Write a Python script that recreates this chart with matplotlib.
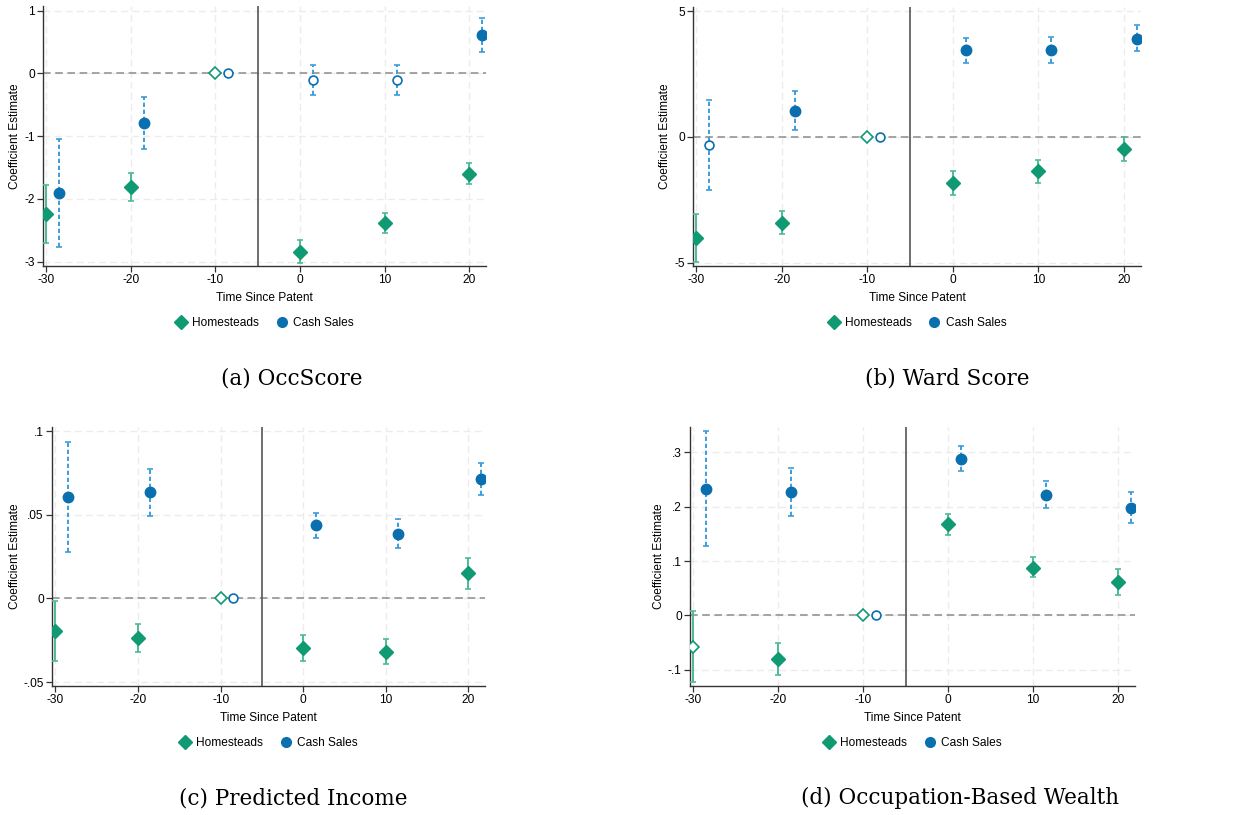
import numpy as np
import matplotlib.pyplot as plt
from matplotlib.lines import Line2D
from matplotlib.ticker import FuncFormatter

plt.rcParams['font.family'] = ['Liberation Sans', 'DejaVu Sans']

# event times (cash sales are drawn shifted right by 1.5)
years = [-30, -20, -10, 0, 10, 20]
cash_shift = 1.5

# (a) OccScore
occ_home = [-2.24, -1.81, 0, -2.84, -2.39, -1.60]
occ_home_lo = [-2.70, -2.03, 0, -3.02, -2.54, -1.77]
occ_home_hi = [-1.78, -1.59, 0, -2.65, -2.23, -1.42]
occ_cash = [-1.90, -0.79, 0, -0.10, -0.10, 0.62]
occ_cash_lo = [-2.77, -1.20, 0, -0.34, -0.34, 0.34]
occ_cash_hi = [-1.04, -0.38, 0, 0.14, 0.13, 0.89]

# (b) Ward Score
ward_home = [-4.00, -3.41, 0, -1.82, -1.37, -0.49]
ward_home_lo = [-4.97, -3.87, 0, -2.30, -1.82, -0.96]
ward_home_hi = [-3.05, -2.95, 0, -1.36, -0.92, -0.02]
ward_cash = [-0.34, 1.01, 0, 3.44, 3.44, 3.90]
ward_cash_lo = [-2.10, 0.26, 0, 2.95, 2.93, 3.40]
ward_cash_hi = [1.45, 1.81, 0, 3.93, 3.95, 4.43]

# (c) Predicted Income
inc_home = [-0.0194, -0.0238, 0, -0.0296, -0.0317, 0.0149]
inc_home_lo = [-0.0373, -0.0321, 0, -0.0373, -0.0391, 0.0054]
inc_home_hi = [-0.0016, -0.0151, 0, -0.0218, -0.0244, 0.0244]
inc_cash = [0.0603, 0.0633, 0, 0.0437, 0.0387, 0.0712]
inc_cash_lo = [0.0278, 0.0492, 0, 0.0361, 0.0302, 0.0615]
inc_cash_hi = [0.0933, 0.0774, 0, 0.0512, 0.0472, 0.0810]

# (d) Occupation-Based Wealth
wlth_home = [-0.0576, -0.0796, 0, 0.1672, 0.0876, 0.0606]
wlth_home_lo = [-0.1225, -0.1096, 0, 0.1482, 0.0698, 0.0367]
wlth_home_hi = [0.0073, -0.0502, 0, 0.1862, 0.1066, 0.0857]
wlth_cash = [0.2333, 0.2272, 0, 0.2884, 0.2223, 0.1978]
wlth_cash_lo = [0.1280, 0.1837, 0, 0.2658, 0.1978, 0.1696]
wlth_cash_hi = [0.3392, 0.2707, 0, 0.3110, 0.2480, 0.2266]

green = '#0f9a73'
green_ci = '#4dbb95'
blue = '#0a6fae'
blue_ci = '#3d9ddc'
fs = 8.6  # small text size


def stata_fmt(v, pos):
    s = ('%g' % round(v, 6))
    s = s.replace('0.', '.') if abs(v) < 1 else s
    return s


def panel(rect, home, hlo, hhi, cash, clo, chi, yticks, ylim, caption, cap_xy):
    ax = fig.add_axes(rect)
    x = np.array(years, dtype=float)
    xc = x + cash_shift
    for xs, v, lo, hi, col, cicol, mk, ms, ls in [
            (x, home, hlo, hhi, green, green_ci, 'D', 7, '-'),
            (xc, cash, clo, chi, blue, blue_ci, 'o', 7.5, (0, (2.2, 1.4)))]:
        v, lo, hi = np.array(v), np.array(lo), np.array(hi)
        has_ci = hi > lo
        eb = ax.errorbar(xs[has_ci], v[has_ci],
                         yerr=[v[has_ci] - lo[has_ci], hi[has_ci] - v[has_ci]],
                         fmt='none', ecolor=cicol, elinewidth=1.4, capsize=2.2,
                         capthick=1.2, zorder=3)
        eb[2][0].set_linestyle(ls)
        hollow = (lo <= 0) & (hi >= 0)
        ax.plot(xs[~hollow], v[~hollow], mk, color=col, ms=ms, zorder=5)
        ax.plot(xs[hollow], v[hollow], mk, mfc='white', mec=col, mew=1.2,
                ms=ms * 0.85, zorder=5)

    ax.axhline(0, color='#8c8c8c', lw=1.1, ls=(0, (5, 3)), zorder=2)
    ax.axvline(-5, color='#555555', lw=1.2, zorder=2)
    ax.set_xlim(-30.4, 22.0)
    ax.set_ylim(*ylim)
    ax.set_xticks([-30, -20, -10, 0, 10, 20])
    ax.set_yticks(yticks)
    ax.yaxis.set_major_formatter(FuncFormatter(stata_fmt))
    ax.xaxis.set_major_formatter(FuncFormatter(lambda v, p: '%d' % v))
    ax.grid(True, color='#ececec', lw=1.0, ls=(0, (5, 3)), zorder=0)
    for s in ['top', 'right']:
        ax.spines[s].set_visible(False)
    for s in ['left', 'bottom']:
        ax.spines[s].set_color('#333333')
        ax.spines[s].set_linewidth(1.0)
    ax.tick_params(labelsize=fs, length=4, width=0.9, color='#333333', pad=2)
    ax.set_xlabel('Time Since Patent', fontsize=fs, labelpad=4)
    ax.set_ylabel('Coefficient Estimate', fontsize=fs, labelpad=2)

    handles = [Line2D([], [], marker='D', color=green, ls='none', ms=7),
               Line2D([], [], marker='o', color=blue, ls='none', ms=7)]
    ax.legend(handles, ['Homesteads', 'Cash Sales'], loc='upper center',
              bbox_to_anchor=(0.5, -0.155), ncol=2, frameon=False, fontsize=fs,
              handletextpad=0.45, columnspacing=1.4, handlelength=1.0)
    fig.text(cap_xy[0], cap_xy[1], caption, ha='center', va='center',
             fontsize=15.5, family='DejaVu Serif')
    return ax


fig = plt.figure(figsize=(12.33, 8.15), dpi=100)
W, H = 1233.0, 815.0


def rect(l, r, t, b):
    return [l / W, 1 - b / H, (r - l) / W, (b - t) / H]


panel(rect(43, 486, 6, 266), occ_home, occ_home_lo, occ_home_hi,
      occ_cash, occ_cash_lo, occ_cash_hi, [-3, -2, -1, 0, 1], (-3.07, 1.075),
      '(a) OccScore', (292 / W, 1 - 378 / H))
panel(rect(693, 1141, 7, 266), ward_home, ward_home_lo, ward_home_hi,
      ward_cash, ward_cash_lo, ward_cash_hi, [-5, 0, 5], (-5.13, 5.16),
      '(b) Ward Score', (947 / W, 1 - 378 / H))
panel(rect(52, 485, 427, 686), inc_home, inc_home_lo, inc_home_hi,
      inc_cash, inc_cash_lo, inc_cash_hi, [-0.05, 0, 0.05, 0.1], (-0.0523, 0.1024),
      '(c) Predicted Income', (293 / W, 1 - 798 / H))
panel(rect(690, 1135, 427, 686), wlth_home, wlth_home_lo, wlth_home_hi,
      wlth_cash, wlth_cash_lo, wlth_cash_hi, [-0.1, 0, 0.1, 0.2, 0.3], (-0.1298, 0.3465),
      '(d) Occupation-Based Wealth', (960 / W, 1 - 798 / H))

fig.savefig('out.png', dpi=100, facecolor='white')
